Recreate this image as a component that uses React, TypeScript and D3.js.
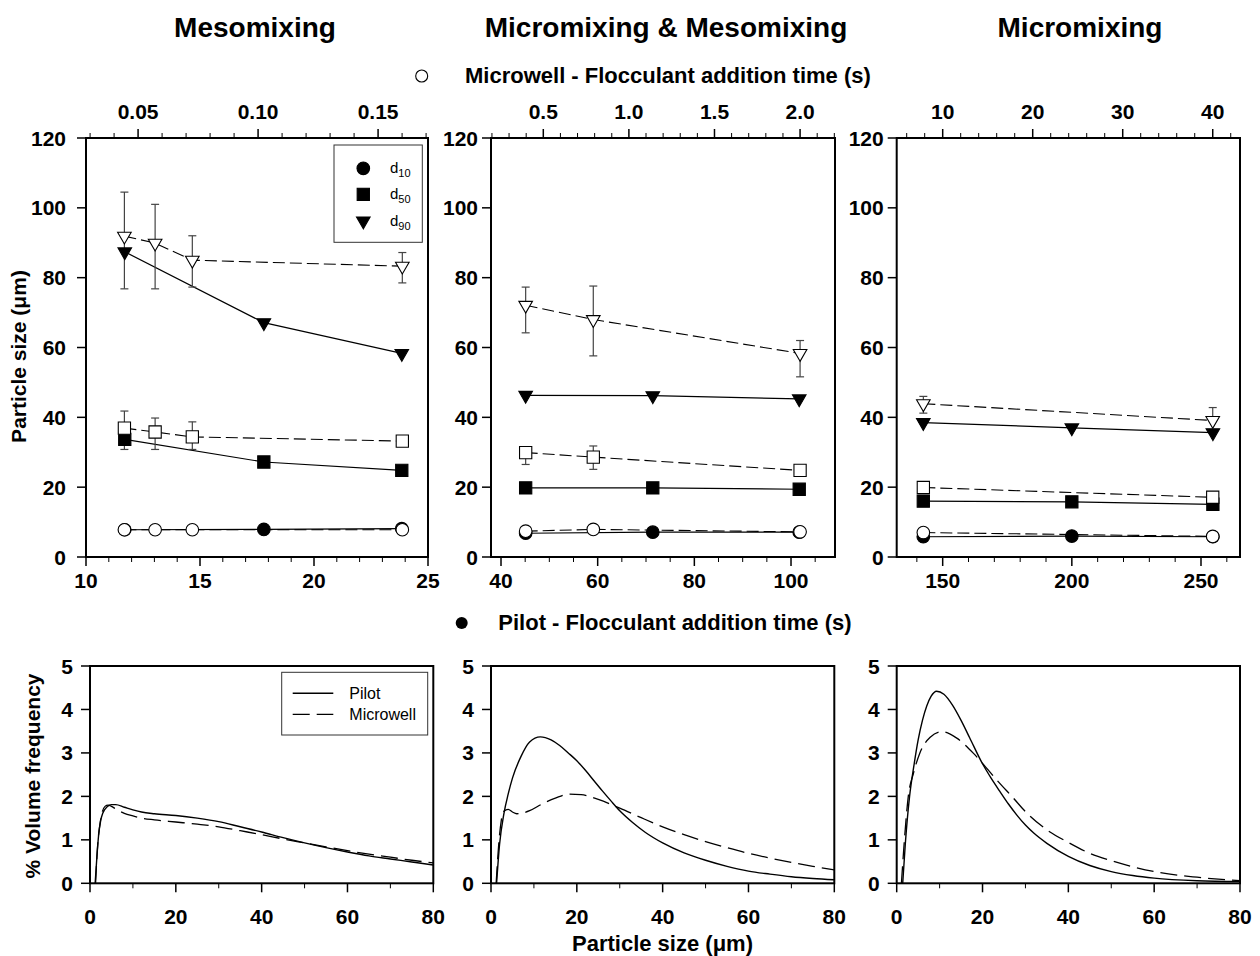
import React from 'react';
import * as d3 from 'd3';

const FONT = '"Liberation Sans", Arial, Helvetica, sans-serif';

// ---------------- titles / labels ----------------
const panelTitles = ['Mesomixing', 'Micromixing & Mesomixing', 'Micromixing'];
const microwellAxisLabel = 'Microwell - Flocculant addition time (s)';
const pilotAxisLabel = 'Pilot - Flocculant addition time (s)';
const topYLabel = 'Particle size (\u03bcm)';
const bottomYLabel = '% Volume frequency';
const bottomXLabel = 'Particle size (\u03bcm)';

// ---------------- top panels: tick labels ----------------
const yTicksTop = [0, 20, 40, 60, 80, 100, 120];
const pilotTicks1 = [10, 15, 20, 25];
const microTicks1 = [0.05, 0.1, 0.15];
const pilotTicks2 = [40, 60, 80, 100];
const microTicks2 = [0.5, 1.0, 1.5, 2.0];
const pilotTicks3 = [150, 200, 250];
const microTicks3 = [10, 20, 30, 40];

// ---------------- panel 1 (Mesomixing) ----------------
const pilotTime1 = [11.7, 17.8, 23.85];
const pilotD10_1 = [7.8, 7.9, 8.1];
const pilotD50_1 = [33.7, 27.2, 24.8];
const pilotD90_1 = [87.4, 67.1, 58.3];
const microTime1 = [0.0443, 0.0571, 0.0726, 0.1601];
const microD10_1 = [7.8, 7.8, 7.8, 7.8];
const microD50_1 = [36.9, 35.8, 34.4, 33.2];
const microD90_1 = [91.9, 89.9, 85.0, 83.3];
const microD50Lo_1 = [30.8, 30.8, 30.8, 31.7];
const microD50Hi_1 = [41.8, 39.8, 38.7, 34.0];
const microD90Lo_1 = [76.8, 76.8, 77.3, 78.5];
const microD90Hi_1 = [104.5, 101.0, 92.0, 87.2];

// ---------------- panel 2 (Micromixing & Mesomixing) ----------------
const pilotTime2 = [45.1, 71.4, 101.7];
const pilotD10_2 = [6.8, 7.1, 7.1];
const pilotD50_2 = [19.8, 19.8, 19.4];
const pilotD90_2 = [46.3, 46.2, 45.3];
const microTime2 = [0.397, 0.792, 2.0];
const microD10_2 = [7.4, 7.9, 7.2];
const microD50_2 = [29.9, 28.6, 24.8];
const microD90_2 = [72.1, 68.0, 58.3];
const microD50Lo_2 = [26.5, 25.1, 24.8];
const microD50Hi_2 = [31.5, 31.8, 24.8];
const microD90Lo_2 = [64.2, 57.6, 51.6];
const microD90Hi_2 = [77.3, 77.6, 62.0];

// ---------------- panel 3 (Micromixing) ----------------
const pilotTime3 = [142.5, 200, 254.6];
const pilotD10_3 = [5.8, 6.0, 5.8];
const pilotD50_3 = [16.0, 15.8, 15.1];
const pilotD90_3 = [38.5, 37.0, 35.6];
const microTime3 = [7.85, 40.0];
const microD10_3 = [7.0, 5.9];
const microD50_3 = [19.9, 17.1];
const microD90_3 = [43.9, 39.1];
const microD50Lo_3 = [19.9, 17.1];
const microD50Hi_3 = [19.9, 17.1];
const microD90Lo_3 = [41.2, 39.1];
const microD90Hi_3 = [46.0, 42.8];

// ---------------- bottom panels: size distributions ----------------
const sizeTicks = [0, 20, 40, 60, 80];
const freqTicks = [0, 1, 2, 3, 4, 5];

const mesoPilotSize = [1.2, 1.6, 2, 2.5, 3, 4, 5, 6, 8, 10, 12, 15, 20, 25, 30, 35, 40, 45, 50, 55, 60, 65, 70, 75, 80];
const mesoPilotFreq = [0, 0.6, 1.1, 1.45, 1.62, 1.76, 1.81, 1.81, 1.75, 1.69, 1.64, 1.6, 1.56, 1.5, 1.42, 1.3, 1.18, 1.05, 0.93, 0.82, 0.72, 0.63, 0.56, 0.49, 0.42];
const mesoMicroSize = [1.3, 1.8, 2.3, 2.8, 3.5, 4.2, 5, 6, 8, 10, 12, 15, 20, 25, 30, 35, 40, 45, 50, 55, 60, 65, 70, 75, 80];
const mesoMicroFreq = [0, 0.9, 1.35, 1.62, 1.77, 1.8, 1.77, 1.71, 1.61, 1.55, 1.5, 1.46, 1.41, 1.36, 1.3, 1.21, 1.12, 1.02, 0.93, 0.84, 0.75, 0.67, 0.6, 0.53, 0.47];

const mixPilotSize = [1.3, 2, 3, 4, 5, 7, 9, 11.5, 14, 16, 18, 20, 22, 24, 26, 28, 30, 33, 36, 40, 45, 50, 55, 60, 65, 70, 75, 80];
const mixPilotFreq = [0, 0.9, 1.6, 2.05, 2.42, 2.92, 3.25, 3.37, 3.3, 3.17, 3.0, 2.82, 2.6, 2.36, 2.12, 1.89, 1.67, 1.4, 1.17, 0.93, 0.7, 0.53, 0.39, 0.28, 0.21, 0.15, 0.11, 0.08];
const mixMicroSize = [1.2, 1.8, 2.4, 3, 4, 5, 6, 7, 9, 12, 15, 18, 21, 25, 30, 35, 40, 45, 50, 55, 60, 65, 70, 75, 80];
const mixMicroFreq = [0, 0.9, 1.45, 1.66, 1.7, 1.64, 1.6, 1.61, 1.67, 1.83, 1.96, 2.05, 2.04, 1.93, 1.73, 1.51, 1.3, 1.12, 0.96, 0.82, 0.69, 0.58, 0.48, 0.39, 0.31];

const microPilotSize = [1.4, 2, 3, 4, 5, 6, 7, 8, 9.3, 11, 13, 15, 17, 20, 22, 24, 26, 28, 30, 32, 35, 40, 45, 50, 55, 60, 70, 80];
const microPilotFreq = [0, 0.9, 2.0, 2.7, 3.3, 3.75, 4.08, 4.3, 4.42, 4.35, 4.1, 3.75, 3.35, 2.75, 2.42, 2.12, 1.83, 1.57, 1.34, 1.15, 0.92, 0.62, 0.41, 0.27, 0.18, 0.12, 0.06, 0.04];
const microMicroSize = [1.1, 1.8, 2.7, 3.9, 5.4, 7.8, 10.5, 14, 17.9, 20, 23.3, 27.2, 30, 35, 40, 45, 50, 60, 70, 80];
const microMicroFreq = [0, 1.0, 2.0, 2.53, 3.0, 3.36, 3.49, 3.34, 2.99, 2.76, 2.38, 1.96, 1.65, 1.23, 0.94, 0.69, 0.52, 0.27, 0.14, 0.06];

// ---------------- layout config ----------------
const TOP_Y0 = 138;
const TOP_Y1 = 557;
const BOT_Y0 = 666;
const BOT_Y1 = 883.3;

type Series = { x: number[]; y: number[]; lo?: number[]; hi?: number[] };

const topPanels = [
  {
    left: 86, right: 428, yGap: 20,
    pDomain: [10, 25], pTicks: pilotTicks1, pMinor: 1, pFmt: (v: number) => d3.format('d')(v),
    mDomain: [0.0283, 0.1708], mTicks: microTicks1, mMinor: 0.01, mFmt: (v: number) => d3.format('.2f')(v),
    pilot: [
      { x: pilotTime1, y: pilotD10_1 }, { x: pilotTime1, y: pilotD50_1 }, { x: pilotTime1, y: pilotD90_1 },
    ] as Series[],
    micro: [
      { x: microTime1, y: microD10_1 },
      { x: microTime1, y: microD50_1, lo: microD50Lo_1, hi: microD50Hi_1 },
      { x: microTime1, y: microD90_1, lo: microD90Lo_1, hi: microD90Hi_1 },
    ] as Series[],
  },
  {
    left: 491, right: 835, yGap: 13,
    pDomain: [37.93, 109.1], pTicks: pilotTicks2, pMinor: 5, pFmt: (v: number) => d3.format('d')(v),
    mDomain: [0.1945, 2.204], mTicks: microTicks2, mMinor: 0.1, mFmt: (v: number) => d3.format('.1f')(v),
    pilot: [
      { x: pilotTime2, y: pilotD10_2 }, { x: pilotTime2, y: pilotD50_2 }, { x: pilotTime2, y: pilotD90_2 },
    ] as Series[],
    micro: [
      { x: microTime2, y: microD10_2 },
      { x: microTime2, y: microD50_2, lo: microD50Lo_2, hi: microD50Hi_2 },
      { x: microTime2, y: microD90_2, lo: microD90Lo_2, hi: microD90Hi_2 },
    ] as Series[],
  },
  {
    left: 896.7, right: 1240, yGap: 13,
    pDomain: [132.2, 265.1], pTicks: pilotTicks3, pMinor: 10, pFmt: (v: number) => d3.format('d')(v),
    mDomain: [4.89, 43.03], mTicks: microTicks3, mMinor: 2, mFmt: (v: number) => d3.format('d')(v),
    pilot: [
      { x: pilotTime3, y: pilotD10_3 }, { x: pilotTime3, y: pilotD50_3 }, { x: pilotTime3, y: pilotD90_3 },
    ] as Series[],
    micro: [
      { x: microTime3, y: microD10_3 },
      { x: microTime3, y: microD50_3, lo: microD50Lo_3, hi: microD50Hi_3 },
      { x: microTime3, y: microD90_3, lo: microD90Lo_3, hi: microD90Hi_3 },
    ] as Series[],
  },
];

const bottomPanels = [
  { left: 90, right: 433.3, pilot: [mesoPilotSize, mesoPilotFreq], micro: [mesoMicroSize, mesoMicroFreq], legend: true },
  { left: 491, right: 834.3, pilot: [mixPilotSize, mixPilotFreq], micro: [mixMicroSize, mixMicroFreq], legend: false },
  { left: 896.7, right: 1240, pilot: [microPilotSize, microPilotFreq], micro: [microMicroSize, microMicroFreq], legend: false },
];

const titleCenters = [255, 666, 1080];

const shapes = [d3.symbolCircle, d3.symbolSquare, d3.symbolTriangle];
const shapeSizes = [125, 150, 80];

function Marker({ k, filled, x, y }: { k: number; filled: boolean; x: number; y: number }) {
  const d = d3.symbol().type(shapes[k]).size(shapeSizes[k])() as string;
  const rot = k === 2 ? ' rotate(180)' : '';
  return (
    <path d={d} transform={`translate(${x},${y})${rot}`} fill={filled ? '#000' : '#fff'} stroke="#000" strokeWidth={1.1} />
  );
}

function minorTicks(domain: number[], step: number, majors: number[]) {
  const out: number[] = [];
  const start = Math.ceil(domain[0] / step - 1e-9);
  const end = Math.floor(domain[1] / step + 1e-9);
  for (let i = start; i <= end; i++) {
    const v = +(i * step).toFixed(6);
    if (!majors.some((m) => Math.abs(m - v) < step * 0.01)) out.push(v);
  }
  return out;
}

function TopPanel({ cfg }: { cfg: (typeof topPanels)[number] }) {
  const y = d3.scaleLinear().domain([0, 120]).range([TOP_Y1, TOP_Y0]);
  const xp = d3.scaleLinear().domain(cfg.pDomain).range([cfg.left, cfg.right]);
  const xm = d3.scaleLinear().domain(cfg.mDomain).range([cfg.left, cfg.right]);
  const line = (sx: d3.ScaleLinear<number, number>) =>
    d3.line<[number, number]>().x((d) => sx(d[0])).y((d) => y(d[1]));
  const pMinor = minorTicks(cfg.pDomain, cfg.pMinor, cfg.pTicks);
  const mMinor = minorTicks(cfg.mDomain, cfg.mMinor, cfg.mTicks);
  return (
    <g>
      {cfg.pilot.map((s, i) => (
        <path key={'pl' + i} d={line(xp)(s.x.map((v, j) => [v, s.y[j]] as [number, number])) as string}
          fill="none" stroke="#000" strokeWidth={1.2} />
      ))}
      {cfg.micro.map((s, i) => (
        <path key={'ml' + i} d={line(xm)(s.x.map((v, j) => [v, s.y[j]] as [number, number])) as string}
          fill="none" stroke="#000" strokeWidth={1.1} strokeDasharray="12,5" />
      ))}
      {cfg.micro.map((s, i) =>
        s.lo ? s.x.map((v, j) => {
          const cx = xm(v);
          const y1 = y(s.lo![j]);
          const y2 = y(s.hi![j]);
          if (Math.abs(y1 - y2) < 1) return null;
          return (
            <g key={'e' + i + '-' + j} stroke="#444" strokeWidth={1.2}>
              <line x1={cx} x2={cx} y1={y1} y2={y2} />
              <line x1={cx - 4} x2={cx + 4} y1={y1} y2={y1} />
              <line x1={cx - 4} x2={cx + 4} y1={y2} y2={y2} />
            </g>
          );
        }) : null
      )}
      {cfg.pilot.map((s, i) => s.x.map((v, j) => (
        <Marker key={'pm' + i + j} k={i} filled={true} x={xp(v)} y={y(s.y[j])} />
      )))}
      {cfg.micro.map((s, i) => s.x.map((v, j) => (
        <Marker key={'mm' + i + j} k={i} filled={false} x={xm(v)} y={y(s.y[j])} />
      )))}
      <rect x={cfg.left} y={TOP_Y0} width={cfg.right - cfg.left} height={TOP_Y1 - TOP_Y0} fill="none" stroke="#000" strokeWidth={2} />
      {yTicksTop.map((t) => (
        <g key={'yt' + t}>
          <line x1={cfg.left - 9} x2={cfg.left} y1={y(t)} y2={y(t)} stroke="#000" strokeWidth={1.5} />
          <text x={cfg.left - cfg.yGap} y={y(t) + 7.5} textAnchor="end" fontSize={21} fontWeight="bold" fontFamily={FONT}>{t}</text>
        </g>
      ))}
      {cfg.pTicks.map((t) => (
        <g key={'pt' + t}>
          <line x1={xp(t)} x2={xp(t)} y1={TOP_Y1} y2={TOP_Y1 + 9} stroke="#000" strokeWidth={1.5} />
          <text x={xp(t)} y={588} textAnchor="middle" fontSize={21} fontWeight="bold" fontFamily={FONT}>{cfg.pFmt(t)}</text>
        </g>
      ))}
      {pMinor.map((t) => (
        <line key={'pmn' + t} x1={xp(t)} x2={xp(t)} y1={TOP_Y1} y2={TOP_Y1 + 5} stroke="#000" strokeWidth={1} />
      ))}
      {cfg.mTicks.map((t) => (
        <g key={'mt' + t}>
          <line x1={xm(t)} x2={xm(t)} y1={TOP_Y0} y2={TOP_Y0 - 9} stroke="#000" strokeWidth={1.5} />
          <text x={xm(t)} y={119} textAnchor="middle" fontSize={21} fontWeight="bold" fontFamily={FONT}>{cfg.mFmt(t)}</text>
        </g>
      ))}
      {mMinor.map((t) => (
        <line key={'mmn' + t} x1={xm(t)} x2={xm(t)} y1={TOP_Y0} y2={TOP_Y0 - 5} stroke="#000" strokeWidth={1} />
      ))}
    </g>
  );
}

function BottomPanel({ cfg }: { cfg: (typeof bottomPanels)[number] }) {
  const x = d3.scaleLinear().domain([0, 80]).range([cfg.left, cfg.right]);
  const y = d3.scaleLinear().domain([0, 5]).range([BOT_Y1, BOT_Y0]);
  const line = d3.line<[number, number]>().x((d) => x(d[0])).y((d) => y(d[1])).curve(d3.curveMonotoneX);
  const pts = (a: number[][]) => a[0].map((v, i) => [v, a[1][i]] as [number, number]);
  const minor = minorTicks([0, 80], 10, sizeTicks);
  return (
    <g>
      <path d={line(pts(cfg.micro)) as string} fill="none" stroke="#000" strokeWidth={1.3} strokeDasharray="17,7" />
      <path d={line(pts(cfg.pilot)) as string} fill="none" stroke="#000" strokeWidth={1.4} />
      <rect x={cfg.left} y={BOT_Y0} width={cfg.right - cfg.left} height={BOT_Y1 - BOT_Y0} fill="none" stroke="#000" strokeWidth={2} />
      {freqTicks.map((t) => (
        <g key={'fy' + t}>
          <line x1={cfg.left - 9} x2={cfg.left} y1={y(t)} y2={y(t)} stroke="#000" strokeWidth={1.5} />
          <text x={cfg.left - 17} y={y(t) + 7.5} textAnchor="end" fontSize={21} fontWeight="bold" fontFamily={FONT}>{t}</text>
        </g>
      ))}
      {sizeTicks.map((t) => (
        <g key={'sx' + t}>
          <line x1={x(t)} x2={x(t)} y1={BOT_Y1} y2={BOT_Y1 + 9} stroke="#000" strokeWidth={1.5} />
          <text x={x(t)} y={924} textAnchor="middle" fontSize={21} fontWeight="bold" fontFamily={FONT}>{t}</text>
        </g>
      ))}
      {minor.map((t) => (
        <line key={'sm' + t} x1={x(t)} x2={x(t)} y1={BOT_Y1} y2={BOT_Y1 + 5} stroke="#000" strokeWidth={1} />
      ))}
      {cfg.legend && (
        <g fontFamily={FONT} fontSize={16}>
          <rect x={281.7} y={672.3} width={146} height={62.7} fill="#fff" stroke="#333" strokeWidth={1} />
          <line x1={292.7} x2={333.3} y1={693.3} y2={693.3} stroke="#000" strokeWidth={1.4} />
          <line x1={292.7} x2={333.3} y1={714.3} y2={714.3} stroke="#000" strokeWidth={1.3} strokeDasharray="17,7" />
          <text x={349.3} y={699}>Pilot</text>
          <text x={349.3} y={720}>Microwell</text>
        </g>
      )}
    </g>
  );
}

export default function App() {
  const legendLabels = ['10', '50', '90'];
  const legendY = [168.3, 194.3, 221];
  return (
    <svg width={1260} height={956} style={{ position: 'absolute', left: 0, top: 0, background: '#fff' }}>
      <rect x={0} y={0} width={1260} height={956} fill="#fff" />
      {panelTitles.map((t, i) => (
        <text key={t} x={titleCenters[i]} y={37} textAnchor="middle" fontSize={28} fontWeight="bold" fontFamily={FONT}>{t}</text>
      ))}
      <circle cx={421.7} cy={76} r={6} fill="#fff" stroke="#000" strokeWidth={1.1} />
      <text x={465} y={83} fontSize={22} fontWeight="bold" fontFamily={FONT}>{microwellAxisLabel}</text>
      <circle cx={461.7} cy={623} r={6} fill="#000" />
      <text x={498.3} y={630} fontSize={22} fontWeight="bold" fontFamily={FONT}>{pilotAxisLabel}</text>
      <text transform="translate(26,356.5) rotate(-90)" textAnchor="middle" fontSize={21} fontWeight="bold" fontFamily={FONT}>{topYLabel}</text>
      <text transform="translate(40,776) rotate(-90)" textAnchor="middle" fontSize={21} fontWeight="bold" fontFamily={FONT}>{bottomYLabel}</text>
      <text x={662.5} y={951} textAnchor="middle" fontSize={22} fontWeight="bold" fontFamily={FONT}>{bottomXLabel}</text>
      {topPanels.map((cfg, i) => <TopPanel key={'t' + i} cfg={cfg} />)}
      {bottomPanels.map((cfg, i) => <BottomPanel key={'b' + i} cfg={cfg} />)}
      <g>
        <rect x={334} y={145} width={88.3} height={97.3} fill="#fff" stroke="#333" strokeWidth={1} />
        {legendLabels.map((l, i) => (
          <g key={l}>
            <Marker k={i} filled={true} x={363.3} y={legendY[i]} />
            <text x={390} y={legendY[i] + 4.5} fontSize={15} fontFamily={FONT}>
              d<tspan fontSize={11} dy={4}>{l}</tspan>
            </text>
          </g>
        ))}
      </g>
    </svg>
  );
}
